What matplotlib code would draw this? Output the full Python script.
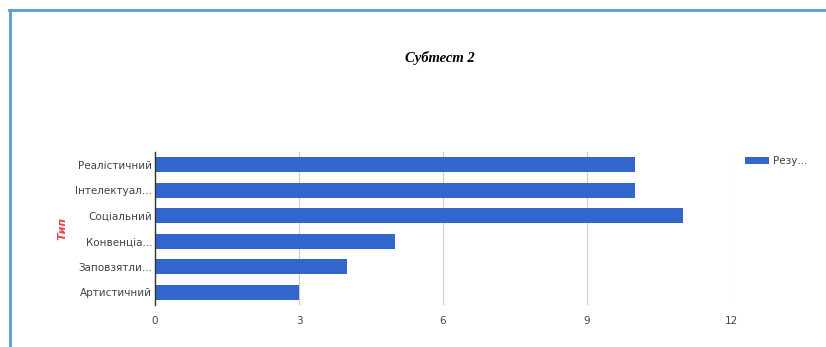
import matplotlib.pyplot as plt
from matplotlib.lines import Line2D

categories = ['Реалістичний', 'Інтелектуал...', 'Соціальний', 'Конвенціа...',
              'Заповзятли...', 'Артистичний']
values = [10, 10, 11, 5, 4, 3]
xticks = [0, 3, 6, 9, 12]

W, H = 826, 347
fig = plt.figure(figsize=(W / 100, H / 100), dpi=100)
ax = fig.add_axes([155 / W, 42 / H, (731 - 155) / W, 153 / H])

y = list(range(len(categories)))[::-1]
ax.barh(y, values, height=0.6, color='#3366cc', label='Резу...', zorder=3)

ax.set_xlim(0, 12)
ax.set_ylim(-0.5, len(categories) - 0.5)
ax.set_xticks(xticks)
ax.set_xticklabels([str(t) for t in xticks], fontsize=7.5, color='#444444')
ax.set_yticks(y)
ax.set_yticklabels(categories, fontsize=7.5, color='#444444')
ax.tick_params(axis='both', length=0)
ax.tick_params(axis='x', pad=8)
ax.tick_params(axis='y', pad=2)
ax.grid(axis='x', color='#cccccc', linewidth=0.8, zorder=0)
for s in ['top', 'right', 'bottom']:
    ax.spines[s].set_visible(False)
ax.spines['left'].set_color('#333333')
ax.spines['left'].set_linewidth(1.0)
ax.spines['left'].set_zorder(4)

ax.set_ylabel('Тип', color='#e8474d', fontsize=8, fontstyle='italic',
              fontweight='bold', labelpad=6)

fig.text(440 / W, 1 - 58 / H, 'Субтест 2', family='Liberation Serif',
         fontstyle='italic', fontweight='bold', fontsize=10.5, ha='center', va='center')

fig.legend(loc='center left', bbox_to_anchor=(745 / W, 1 - 161 / H), frameon=False,
           fontsize=7.5, handlelength=2.3, handleheight=0.7, handletextpad=0.4,
           labelcolor='#444444', borderaxespad=0, borderpad=0)

# blue frame around the chart (top and left only)
fig.add_artist(Line2D([9 / W, 1], [1 - 10 / H, 1 - 10 / H], transform=fig.transFigure,
                      color='#5b9bd5', linewidth=2))
fig.add_artist(Line2D([10 / W, 10 / W], [0, 1 - 10 / H], transform=fig.transFigure,
                      color='#5b9bd5', linewidth=2))

fig.savefig('out.png', dpi=100)
